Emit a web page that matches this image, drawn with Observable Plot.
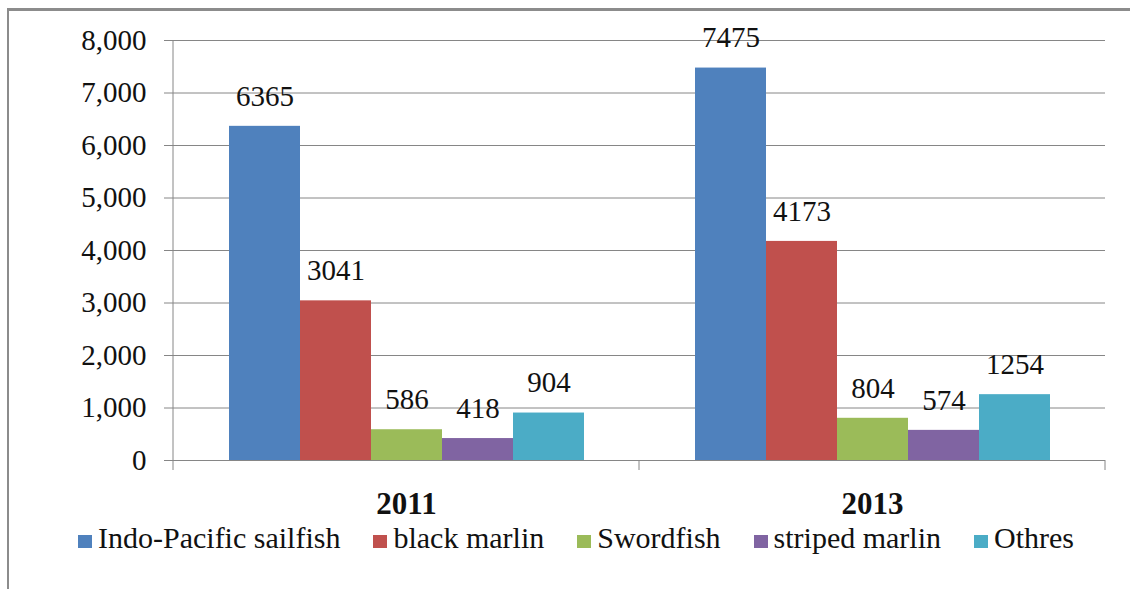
<!DOCTYPE html>
<html>
<head>
<meta charset="utf-8">
<script src="https://cdn.jsdelivr.net/npm/d3@7"></script>
<script src="https://cdn.jsdelivr.net/npm/@observablehq/plot@0.6"></script>
<style>
  body { margin: 0; background: #fff; }
  #chart {
    position: relative; width: 1130px; height: 589px; overflow: hidden;
    font-family: 'Liberation Serif', serif; color: #111;
  }
  #frame {
    position: absolute; left: 7px; top: 8px; width: 1200px; height: 700px;
    border-left: 2px solid #8c8c8c; border-top: 3px solid #8c8c8c;
  }
  #plot { position: absolute; left: 0; top: 0; }
  #legend {
    position: absolute; left: 78px; top: 523px;
    display: flex; align-items: center; line-height: 30px;
    font-family: 'Liberation Serif', serif; font-size: 30px;
  }
  #legend .item { display: flex; align-items: center; margin-right: 33px; }
  #legend .swatch { width: 14px; height: 13px; margin-right: 6px; position: relative; top: 3px; }
</style>
</head>
<body>
<div id="chart">
  <div id="frame"></div>
  <div id="plot"></div>
  <div id="legend"></div>
</div>
<script>
// Catch by species, per survey year
const years = ["2011", "2013"];
const species = ["Indo-Pacific sailfish", "black marlin", "Swordfish", "striped marlin", "Othres"];
const catch2011 = [6365, 3041, 586, 418, 904];
const catch2013 = [7475, 4173, 804, 574, 1254];
const palette = ["#4F81BD", "#C0504D", "#9BBB59", "#8064A2", "#4BACC6"];
const yTicks = [0, 1000, 2000, 3000, 4000, 5000, 6000, 7000, 8000];

const seriesByYear = [catch2011, catch2013];
const rows = years.flatMap((year, i) =>
  species.map((s, j) => ({ year, species: s, value: seriesByYear[i][j] }))
);

const font = "Liberation Serif";
const gridColor = "#868686";
const thousands = d3.format(",");

const chart = Plot.plot({
  width: 1130,
  height: 530,
  marginLeft: 172,
  marginRight: 25,
  marginTop: 40,
  marginBottom: 70,
  style: { fontFamily: font, fontSize: "29px", background: "transparent", color: "#111", overflow: "visible" },
  fx: { domain: years, padding: 0 },
  x: { domain: species, paddingInner: 0, paddingOuter: 0.74, axis: null },
  y: { domain: [0, 8000] },
  color: { domain: species, range: palette },
  marks: [
    Plot.gridY(yTicks, { stroke: gridColor, strokeOpacity: 1 }),
    Plot.barY(rows, { fx: "year", x: "species", y: "value", fill: "species" }),
    Plot.ruleY([0], { stroke: gridColor }),
    Plot.text(rows, {
      fx: "year", x: "species", y: "value",
      text: d => String(d.value),
      dy: -30, fontSize: 29, fontFamily: font, fill: "#111"
    }),
    Plot.axisY(yTicks, {
      tickSize: 9, tickPadding: 18, tickFormat: thousands,
      stroke: gridColor, fill: "#111", fontSize: 29, fontFamily: font, label: null
    }),
    Plot.axisFx({
      anchor: "bottom", tickSize: 0, tickPadding: 31,
      fontWeight: "bold", fontSize: 31, fontFamily: font, fill: "#111", label: null
    })
  ]
});

// Value axis line and category boundary ticks, placed from the plot's scales
const fx = chart.scale("fx");
const y = chart.scale("y");
const edges = [...years.map(d => fx.apply(d)), fx.apply(years[years.length - 1]) + fx.bandwidth];
const y0 = y.apply(0), yTop = y.apply(8000);
const g = d3.select(chart).append("g").attr("stroke", gridColor).attr("stroke-width", 1);
g.append("line").attr("x1", edges[0]).attr("x2", edges[0]).attr("y1", yTop).attr("y2", y0 + 10);
g.selectAll(".edge").data(edges.slice(1)).join("line")
  .attr("x1", d => d).attr("x2", d => d).attr("y1", y0).attr("y2", y0 + 10);

document.getElementById("plot").appendChild(chart);

// Legend
const legend = d3.select("#legend");
const items = legend.selectAll(".item").data(species).join("div").attr("class", "item");
items.append("div").attr("class", "swatch").style("background", (d, i) => palette[i]);
items.append("span").text(d => d);
</script>
</body>
</html>
